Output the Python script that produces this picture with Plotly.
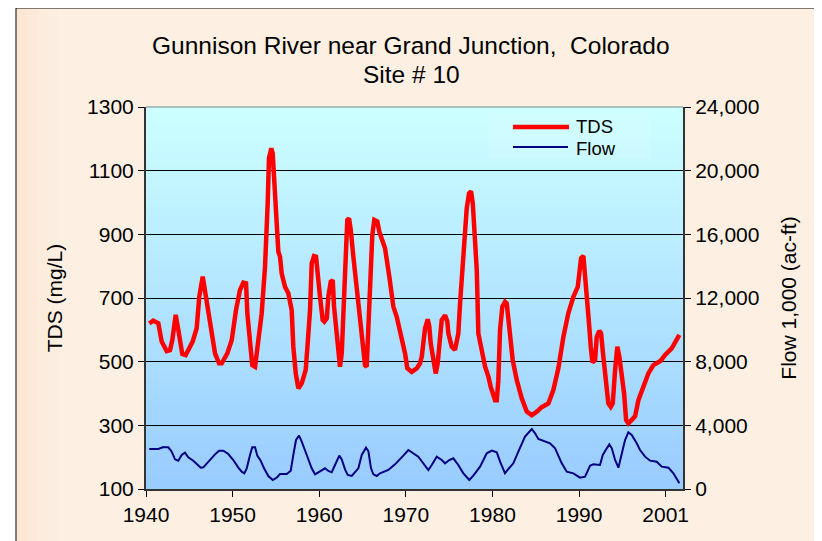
import plotly.graph_objects as go

# ---- data ----
tds_year = [1940.38, 1940.84, 1941.42, 1941.81, 1942.39, 1942.77, 1943.04, 1943.43, 1943.73, 1943.93,
            1944.19, 1944.58, 1945.0, 1945.39, 1945.85, 1946.15, 1946.55, 1947.01, 1947.51, 1947.97,
            1948.43, 1948.74, 1949.39, 1949.9, 1950.39, 1950.85, 1951.24, 1951.55, 1951.7, 1952.01,
            1952.27, 1952.59, 1952.78, 1952.97, 1953.36, 1953.74, 1953.94, 1954.05, 1954.2, 1954.47,
            1954.63, 1954.81, 1955.09, 1955.28, 1955.47, 1955.67, 1956.05, 1956.43, 1956.82, 1957.01,
            1957.29, 1957.59, 1957.98, 1958.44, 1958.67, 1958.94, 1959.13, 1959.4, 1959.63, 1959.83,
            1960.09, 1960.4, 1960.59, 1960.87, 1961.05, 1961.33, 1961.56, 1961.71, 1962.02, 1962.25,
            1962.4, 1962.6, 1962.86, 1963.06, 1963.24, 1963.44, 1963.64, 1963.94, 1964.33, 1964.71,
            1965.02, 1965.29, 1965.48, 1965.67, 1965.95, 1966.13, 1966.36, 1966.71, 1966.94, 1967.6,
            1968.09, 1968.56, 1968.95, 1969.53, 1969.91, 1970.17, 1970.68, 1971.26, 1971.64, 1971.84,
            1972.02, 1972.22, 1972.53, 1972.71, 1972.87, 1973.17, 1973.45, 1973.68, 1973.95, 1974.14,
            1974.53, 1974.79, 1974.91, 1975.3, 1975.68, 1976.06, 1976.26, 1976.57, 1976.84, 1977.03,
            1977.3, 1977.53, 1977.73, 1977.99, 1978.19, 1978.37, 1978.76, 1979.15, 1979.53, 1979.8,
            1980.3, 1980.5, 1980.68, 1980.88, 1981.14, 1981.45, 1981.65, 1982.03, 1982.34, 1982.81,
            1983.38, 1983.96, 1984.54, 1985.12, 1985.69, 1986.46, 1987.03, 1987.61, 1988.19, 1988.76,
            1989.34, 1989.85, 1990.0, 1990.23, 1990.5, 1990.69, 1990.89, 1991.15, 1991.35, 1991.54,
            1991.85, 1992.04, 1992.34, 1992.54, 1992.8, 1993.12, 1993.38, 1993.66, 1993.89, 1994.16,
            1994.42, 1994.65, 1994.93, 1995.2, 1995.43, 1995.69, 1996.08, 1996.47, 1996.85, 1997.43,
            1998.0, 1998.58, 1998.97, 1999.43, 1999.93, 2000.7, 2001.58]
tds_mgl = [620, 629, 621, 563, 533, 536, 568, 647, 600, 557,
           524, 521, 547, 563, 605, 704, 767, 694, 600, 526,
           495, 495, 526, 568, 662, 725, 748, 746, 652, 568,
           489, 484, 526, 578, 652, 798, 903, 997, 1139, 1170,
           1154, 1081, 966, 845, 830, 777, 735, 715, 662, 547,
           463, 416, 432, 474, 558, 662, 809, 832, 830, 767,
           704, 631, 626, 636, 704, 751, 756, 673, 589, 495,
           484, 526, 704, 903, 945, 950, 914, 830, 735, 652,
           547, 489, 484, 631, 809, 898, 945, 940, 908, 856,
           767, 673, 641, 578, 526, 479, 468, 479, 495, 516,
           578, 605, 633, 610, 558, 516, 463, 495, 578, 631,
           646, 626, 589, 547, 537, 589, 683, 809, 893, 982,
           1029, 1035, 997, 893, 788, 589, 531, 484, 453, 421,
           379, 379, 442, 600, 673, 688, 683, 600, 505, 442,
           385, 343, 332, 343, 357, 369, 411, 479, 578, 652,
           704, 735, 788, 825, 832, 777, 704, 620, 547, 498,
           505, 578, 597, 589, 516, 442, 369, 358, 369, 474,
           547, 516, 463, 400, 317, 306, 317, 329, 379, 421,
           463, 489, 497, 503, 521, 542, 584]

flow_year = [1940.38, 1941.42, 1941.93, 1942.58, 1942.97, 1943.35, 1943.73, 1944.12, 1944.5, 1944.88,
             1945.46, 1945.85, 1946.32, 1946.62, 1947.01, 1947.59, 1947.97, 1948.43, 1948.93, 1949.5,
             1950.08, 1950.66, 1951.05, 1951.35, 1951.63, 1952.01, 1952.27, 1952.59, 1952.85, 1953.24,
             1953.63, 1954.12, 1954.63, 1955.09, 1955.47, 1956.25, 1956.71, 1957.01, 1957.32, 1957.67,
             1957.98, 1958.56, 1959.13, 1959.52, 1960.09, 1960.67, 1961.05, 1961.44, 1961.82, 1962.32,
             1962.6, 1962.98, 1963.29, 1963.75, 1964.52, 1964.91, 1965.4, 1965.67, 1965.98, 1966.25,
             1966.64, 1967.02, 1967.98, 1968.75, 1969.71, 1970.29, 1971.44, 1972.02, 1972.6, 1972.99,
             1973.57, 1974.14, 1974.53, 1975.02, 1975.48, 1976.06, 1976.64, 1977.33, 1977.79, 1978.57,
             1979.34, 1979.92, 1980.5, 1980.88, 1981.45, 1981.84, 1982.41, 1982.99, 1983.76, 1984.54,
             1984.92, 1985.3, 1985.88, 1986.65, 1987.23, 1988.0, 1988.58, 1989.34, 1990.12, 1990.69,
             1991.27, 1991.65, 1992.42, 1992.74, 1993.2, 1993.5, 1993.78, 1994.16, 1994.54, 1994.93,
             1995.31, 1995.69, 1996.08, 1996.66, 1997.04, 1997.62, 1998.2, 1998.97, 1999.55, 2000.32,
             2000.89, 2001.58]
flow_kaf = [2513, 2513, 2618, 2618, 2345, 1864, 1780, 2136, 2283, 1990,
            1780, 1550, 1340, 1362, 1613, 1969, 2178, 2408, 2408, 2199,
            1822, 1340, 1088, 984, 1298, 2136, 2618, 2618, 2094, 1780,
            1298, 817, 565, 712, 942, 942, 1152, 2136, 3079, 3351,
            2974, 2136, 1298, 921, 1131, 1298, 1131, 1047, 1508, 2094,
            1864, 1236, 880, 817, 1298, 2136, 2597, 2387, 1298, 921,
            817, 984, 1194, 1550, 2094, 2450, 2031, 1613, 1194, 1508,
            2031, 1822, 1613, 1822, 1927, 1508, 984, 565, 838, 1403,
            2241, 2408, 2303, 1717, 984, 1257, 1613, 2345, 3288, 3770,
            3497, 3141, 3037, 2870, 2555, 1613, 1088, 984, 712, 775,
            1466, 1550, 1508, 2136, 2555, 2806, 2555, 1822, 1340, 2136,
            3079, 3561, 3393, 2870, 2450, 2031, 1780, 1717, 1403, 1340,
            984, 358]

x_tickvals = [1940, 1950, 1960, 1970, 1980, 1990, 2000]
x_ticktext = ["1940", "1950", "1960", "1970", "1980", "1990", "2001"]
tds_ticks = [100, 300, 500, 700, 900, 1100, 1300]
flow_ticks = [0, 4000, 8000, 12000, 16000, 20000, 24000]

FONT = "Liberation Sans, Arial, sans-serif"

# screen-pixel helpers (plot area spans x 146..683, y 107..489 on screen)
def px(x):
    return (x - 146) / 537

def py(y):
    return (489 - y) / 382

fig = go.Figure()
fig.add_trace(go.Scatter(x=tds_year, y=tds_mgl, name="TDS", mode="lines",
                         line=dict(color="#FF0000", width=4.5), yaxis="y", showlegend=False))
fig.add_trace(go.Scatter(x=flow_year, y=flow_kaf, name="Flow", mode="lines",
                         line=dict(color="#000080", width=2), yaxis="y2", showlegend=False))

shapes = []
# chart area (peach) with black border on left/top
shapes.append(dict(type="rect", xref="paper", yref="paper",
                   x0=px(16), x1=px(900), y0=py(600), y1=py(8),
                   line=dict(color="black", width=1), fillcolor="#FDF0E3", layer="below"))
# subtle darker tint near left/top edges
for i, a in enumerate([0.5, 0.35, 0.2, 0.1]):
    shapes.append(dict(type="rect", xref="paper", yref="paper",
                       x0=px(17 + i * 10), x1=px(27 + i * 10), y0=py(600), y1=py(9),
                       line=dict(width=0), fillcolor=f"rgba(250,222,195,{a})", layer="below"))
# plot-area vertical gradient (#CCFFFF top -> #99CCFF bottom)
n = 60
for i in range(n):
    t = i / (n - 1)
    r = round(153 + (204 - 153) * t)
    g = round(204 + (255 - 204) * t)
    shapes.append(dict(type="rect", xref="paper", yref="paper",
                       x0=0, x1=1, y0=i / n, y1=(i + 1) / n + 0.002,
                       fillcolor=f"rgb({r},{g},255)", line=dict(width=0), layer="below"))
# plot-area top border
shapes.append(dict(type="line", xref="paper", yref="paper", x0=0, x1=1, y0=1, y1=1,
                   line=dict(color="#808080", width=1)))
# legend box and keys
shapes.append(dict(type="rect", xref="paper", yref="paper",
                   x0=px(488), x1=px(650), y0=py(159), y1=py(114),
                   line=dict(width=0), fillcolor="rgba(255,255,255,0.1)"))
shapes.append(dict(type="line", xref="paper", yref="paper",
                   x0=px(513), x1=px(569), y0=py(127), y1=py(127),
                   line=dict(color="#FF0000", width=4.5)))
shapes.append(dict(type="line", xref="paper", yref="paper",
                   x0=px(513), x1=px(568), y0=py(147), y1=py(147),
                   line=dict(color="#000080", width=2)))

annotations = [
    dict(text="Gunnison River near Grand Junction,\u00a0 Colorado", xref="paper", yref="paper",
         x=px(411), y=py(45), showarrow=False, font=dict(size=24.5),
         xanchor="center", yanchor="middle"),
    dict(text="Site # 10", xref="paper", yref="paper",
         x=px(411), y=py(75), showarrow=False, font=dict(size=24.5),
         xanchor="center", yanchor="middle"),
    dict(text="TDS", xref="paper", yref="paper", x=px(574), y=py(125.5), showarrow=False,
         font=dict(size=18.5), xanchor="left", yanchor="middle", height=18),
    dict(text="Flow", xref="paper", yref="paper", x=px(574), y=py(147.5), showarrow=False,
         font=dict(size=18.5), xanchor="left", yanchor="middle", height=18),
]

# page has an 8px body margin, so the figure is 8px smaller and margins shifted
fig.update_layout(
    width=814, height=533,
    margin=dict(l=138, r=139, t=99, b=52),
    paper_bgcolor="white",
    plot_bgcolor="rgba(0,0,0,0)",
    font=dict(family=FONT, size=21, color="black"),
    shapes=shapes,
    annotations=annotations,
    showlegend=False,
    xaxis=dict(range=[1940, 2002], tickvals=x_tickvals, ticktext=x_ticktext,
               ticks="outside", ticklen=6, tickcolor="black", showgrid=False,
               showline=True, linecolor="#333333", linewidth=2, zeroline=False,
               tickfont=dict(size=21)),
    yaxis=dict(range=[100, 1300], tickvals=tds_ticks, ticks="outside", ticklen=6,
               tickcolor="black", showgrid=True, gridcolor="black", gridwidth=1,
               showline=True, linecolor="#333333", linewidth=2, zeroline=False,
               title=dict(text="TDS (mg/L)", font=dict(size=21), standoff=19),
               tickfont=dict(size=21)),
    yaxis2=dict(range=[0, 24000], tickvals=flow_ticks, tickformat=",", overlaying="y",
                side="right", ticks="outside", ticklen=6, tickcolor="black",
                showgrid=False, showline=True, linecolor="#333333", linewidth=2,
                zeroline=False,
                title=dict(text="Flow 1,000 (ac-ft)", font=dict(size=21), standoff=23),
                tickfont=dict(size=21)),
)

fig.write_html("out.html")
